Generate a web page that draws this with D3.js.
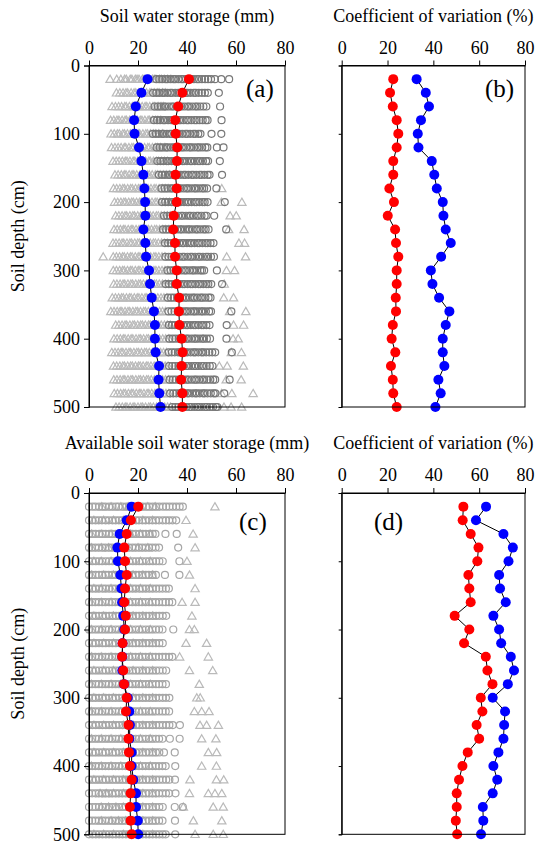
<!DOCTYPE html>
<html>
<head>
<meta charset="utf-8">
<script src="https://cdn.jsdelivr.net/npm/d3@7"></script>
<style>
  body { margin: 0; background: #fff; }
  svg { display: block; }
  text { font-family: "Liberation Serif", "Times New Roman", serif; fill: #000; }
</style>
</head>
<body>
<svg id="fig" width="537" height="845"></svg>
<script>
// Sampling depths (cm)
const depths = [20, 40, 60, 80, 100, 120, 140, 160, 180, 200, 220, 240, 260,
                280, 300, 320, 340, 360, 380, 400, 420, 440, 460, 480, 500];
const xTicks = [0, 20, 40, 60, 80];
const yTicks = [0, 100, 200, 300, 400, 500];

// (a) soil water storage (mm): individual observations per depth, triangles
const swsTri = [
  [8.6,11.3,13,14.5,15.2,16.8,17.5,18.9,19.6,20.4,21.8,22.5,23.7,24.4,25.9,26.6,27.3,28.8,29.5,30.7,32.1,33.4],
  [11.2,12.6,13.9,15.1,15.8,17.2,18.4,19.1,20.3,21.6,22.2,23.5,24.8,25.4,26.7,27.9,28.6,30.0,31.2],
  [9.4,10.8,12.1,13.3,14.6,15.2,16.5,17.7,18.4,19.8,20.5,21.7,22.9,23.6,24.8,26.1,26.9,28.2,29.4,30.3],
  [8.8,10.1,11.4,12.2,13.5,14.7,15.3,16.6,17.9,18.5,19.7,20.9,21.6,22.8,24.1,24.7,26.0,27.2,28.1,29.3],
  [9.0,10.3,11.6,12.4,13.8,14.5,15.7,16.9,17.6,18.8,20.1,20.7,22.0,23.2,23.9,25.1,26.4,27.3,28.5,30.1],
  [9.2,10.6,11.9,13.1,14.4,15.0,16.3,17.5,18.2,19.6,20.8,21.5,22.7,24.0,24.6,25.9,27.1,28.0,29.2,31.0],
  [9.8,11.1,12.3,13.6,14.8,15.5,16.7,18.0,18.7,19.9,21.2,21.9,23.1,24.4,25.0,26.3,27.5,28.4,29.6,30.8,32.0],
  [10.6,11.9,13.2,14.4,15.1,16.4,17.6,18.3,19.5,20.8,21.4,22.7,23.9,24.6,25.8,27.1,27.9,29.1,30.4,31.6,32.9],
  [10.0,11.3,12.6,13.8,14.5,15.8,17.0,17.7,19.0,20.2,20.9,22.1,23.4,24.1,25.3,26.6,27.4,28.6,29.9,31.1,32.3,54.2],
  [10.4,11.7,13.0,14.2,14.9,16.2,17.4,18.1,19.4,20.6,21.3,22.5,23.8,24.5,25.7,27.0,27.8,29.0,30.3,31.5,32.8,54.0,62.4],
  [10.9,12.2,13.5,14.7,15.4,16.7,17.9,18.6,19.9,21.1,21.8,23.0,24.3,25.0,26.2,27.5,28.3,29.5,30.8,32.0,33.2,57.6,60.1],
  [10.2,11.5,12.8,14.0,14.7,16.0,17.2,17.9,19.2,20.4,21.1,22.3,23.6,24.3,25.5,26.8,27.6,28.8,30.1,31.3,32.6,57.0,63.3],
  [9.8,11.0,12.3,13.5,14.2,15.5,16.7,17.4,18.7,19.9,20.6,21.8,23.1,23.8,25.0,26.3,27.1,28.3,29.6,30.8,32.0,61.2,63.5],
  [5.8,9.9,11.2,12.5,13.7,14.4,15.7,16.9,17.6,18.9,20.1,20.8,22.0,23.3,24.0,25.2,26.5,27.3,28.5,29.8,31.0,56.2,63.9],
  [9.9,11.2,12.5,13.7,14.4,15.7,16.9,17.6,18.9,20.1,20.8,22.0,23.3,24.0,25.2,26.5,27.3,28.5,29.8,31.0,32.2,56.1,59.4],
  [10.1,11.4,12.7,13.9,14.6,15.9,17.1,17.8,19.1,20.3,21.0,22.2,23.5,24.2,25.4,26.7,27.5,28.7,30.0,31.2,32.4,55.2],
  [9.5,10.8,12.1,13.3,14.0,15.3,16.5,17.2,18.5,19.7,20.4,21.6,22.9,23.6,24.8,26.1,26.9,28.1,29.4,30.6,31.8,55.0,59.0],
  [8.9,10.2,11.5,12.7,13.4,14.7,15.9,16.6,17.9,19.1,19.8,21.0,22.3,23.0,24.2,25.5,26.3,27.5,28.8,30.0,31.2,57.4,64.0],
  [10.9,12.2,13.5,14.7,15.4,16.7,17.9,18.6,19.9,21.1,21.8,23.0,24.3,25.0,26.2,27.5,28.3,29.5,30.8,32.0,33.2,59.0,63.1],
  [10.2,11.5,12.8,14.0,14.7,16.0,17.2,17.9,19.2,20.4,21.1,22.3,23.6,24.3,25.5,26.8,27.6,28.8,30.1,31.3,32.6,58.8,60.9],
  [9.3,10.6,11.9,13.1,13.8,15.1,16.3,17.0,18.3,19.5,20.2,21.4,22.7,23.4,24.6,25.9,26.7,27.9,29.2,30.4,31.6,58.1,62.2],
  [10.0,11.3,12.6,13.8,14.5,15.8,17.0,17.7,19.0,20.2,20.9,22.1,23.4,24.1,25.3,26.6,27.4,28.6,29.9,31.1,32.3,53.2,56.4,63.0],
  [10.1,11.4,12.7,13.9,14.6,15.9,17.1,17.8,19.1,20.3,21.0,22.2,23.5,24.2,25.4,26.7,27.5,28.7,30.0,31.2,32.4,56.0,62.1],
  [10.3,11.6,12.9,14.1,14.8,16.1,17.3,18.0,19.3,20.5,21.2,22.4,23.7,24.4,25.6,26.9,27.7,28.9,30.2,31.4,32.6,54.1,58.3,67.0],
  [11.0,12.3,13.6,14.8,15.5,16.8,18.0,18.7,20.0,21.2,21.9,23.1,24.4,25.1,26.3,27.6,28.4,29.6,30.9,32.1,33.3,55.1,58.0,62.3]
];
// (a) soil water storage (mm): individual observations per depth, circles
const swsCir = [
  [27.5,28.7,29.9,31.2,32.0,33.3,34.5,35.2,36.5,37.7,38.4,39.6,40.9,41.6,42.8,44.1,44.9,46.1,47.4,48.6,49.8,51.4,54.0,57.2],
  [26.2,27.5,28.7,30.0,30.7,32.0,33.2,33.9,35.2,36.4,37.1,38.3,39.6,40.3,41.5,42.8,43.6,44.8,46.1,47.3,48.5,53.0],
  [26.8,28.1,29.3,30.6,31.3,32.6,33.8,34.5,35.8,37.0,37.7,38.9,40.2,40.9,42.1,43.4,44.2,45.4,46.7,47.9,53.5],
  [26.5,27.8,29.0,30.3,31.0,32.3,33.5,34.2,35.5,36.7,37.4,38.6,39.9,40.6,41.8,43.1,43.9,45.1,46.4,47.6,48.4,54.1],
  [26.0,27.3,28.5,29.8,30.5,31.8,33.0,33.7,35.0,36.2,36.9,38.1,39.4,40.1,41.3,42.6,43.4,44.6,45.5,50.0,54.0],
  [27.6,28.9,30.1,31.4,32.1,33.4,34.6,35.3,36.6,37.8,38.5,39.7,41.0,41.7,42.9,44.2,45.0,46.2,47.5,48.3,52.2,54.9],
  [27.9,29.2,30.4,31.7,32.4,33.7,34.9,35.6,36.9,38.1,38.8,40.0,41.3,42.0,43.2,44.5,45.3,46.5,47.8,48.6,53.4],
  [28.5,29.8,31.0,32.3,33.0,34.3,35.5,36.2,37.5,38.7,39.4,40.6,41.9,42.6,43.8,45.1,45.9,47.1,48.4,49.2,54.3],
  [29.6,30.9,32.1,33.4,34.1,35.4,36.6,37.3,38.6,39.8,40.5,41.7,43.0,43.7,44.9,46.2,47.0,48.2,52.0],
  [29.8,31.1,32.3,33.6,34.3,35.6,36.8,37.5,38.8,40.0,40.7,41.9,43.2,43.9,45.1,46.4,47.2,48.4,55.4],
  [30.6,31.9,33.1,34.4,35.1,36.4,37.6,38.3,39.6,40.8,41.5,42.7,44.0,44.7,45.9,47.2,48.0,51.1],
  [30.2,31.5,32.7,34.0,34.7,36.0,37.2,37.9,39.2,40.4,41.1,42.3,43.6,44.3,45.5,46.8,47.6,48.8,56.0],
  [31.0,32.3,33.5,34.8,35.5,36.8,38.0,38.7,40.0,41.2,41.9,43.1,44.4,45.1,46.3,47.6,48.4,49.6,50.8],
  [31.2,32.5,33.7,35.0,35.7,37.0,38.2,38.9,40.2,41.4,42.1,43.3,44.6,45.3,46.5,47.8,48.6,49.8,51.0],
  [32.0,33.3,34.5,35.8,36.5,37.8,39.0,39.7,41.0,42.2,42.9,44.1,45.4,46.1,47.0,52.2],
  [31.3,32.6,33.8,35.1,35.8,37.1,38.3,39.0,40.3,41.5,42.2,43.4,44.7,45.4,46.6,47.9,48.7,49.9,54.3],
  [32.2,33.5,34.7,36.0,36.7,38.0,39.2,39.9,41.2,42.4,43.1,44.3,45.6,46.3,47.5,48.8,49.6],
  [32.4,33.7,34.9,36.2,36.9,38.2,39.4,40.1,41.4,42.6,43.3,44.5,45.8,46.5,47.7,49.0,49.8,58.1],
  [32.6,33.9,35.1,36.4,37.1,38.4,39.6,40.3,41.6,42.8,43.5,44.7,46.0,46.7,47.9,49.2,56.2],
  [32.8,34.1,35.3,36.6,37.3,38.6,39.8,40.5,41.8,43.0,43.7,44.9,46.2,46.9,48.1,49.4,56.1],
  [32.5,33.8,35.0,36.3,37.0,38.3,39.5,40.2,41.5,42.7,43.4,44.6,45.9,46.6,47.8,49.1,50.3,51.5,58.3],
  [32.7,34.0,35.2,36.5,37.2,38.5,39.7,40.4,41.7,42.9,43.6,44.8,46.1,46.8,48.0,49.3,50.4],
  [32.9,34.2,35.4,36.7,37.4,38.7,39.9,40.6,41.9,43.1,43.8,45.0,46.3,47.0,48.2,49.5,50.7,51.5,57.4],
  [33.1,34.4,35.6,36.9,37.6,38.9,40.1,40.8,42.1,43.3,44.0,45.2,46.5,47.2,48.4,49.7,50.9,51.6,55.2],
  [34.0,35.3,36.5,37.8,38.5,39.8,41.0,41.7,43.0,44.2,44.9,46.1,47.4,48.1,49.3,50.6,51.8,52.4]
];
// (a) mean soil water storage (mm)
const swsBlue = [23.9,21.4,19.1,18.4,18.6,20.4,21.4,22.2,22.6,22.9,23.0,22.2,23.0,
                 23.3,24.5,24.9,25.6,26.5,26.9,26.9,27.2,28.6,28.4,28.7,29.2];
const swsRed  = [40.8,38.1,36.4,35.2,35.4,36.0,35.9,35.3,35.8,35.8,34.6,34.4,35.1,
                 35.1,35.8,35.8,36.8,36.7,36.9,37.8,38.2,37.8,37.6,38.1,38.1];

// (b) coefficient of variation (%)
const cvSwsBlue = [32.7,36.7,38.1,34.6,33.2,33.5,39.3,40.4,41.5,44.1,44.4,45.4,47.6,
                   43.4,38.9,39.6,42.5,47.0,45.4,44.1,44.1,44.8,42.2,43.2,40.9];
const cvSwsRed  = [22.5,21.1,22.3,24.0,24.7,24.0,22.5,22.5,20.8,22.8,20.1,23.3,23.7,
                   24.7,24.0,24.0,23.6,23.7,22.3,21.8,23.4,21.5,22.3,22.5,24.0];

// (c) available soil water storage (mm): individual observations per depth, triangles
const aswsTri = [
  [5.2,9,13,16,20,24,27,51.4],
  [2,6,10,14,18,22,26,39.6],
  [1,5,9,13,17,21,25,42.5],
  [1,5,8,12,16,20,24,43.3],
  [2,5,9,13,17,21,25,40],
  [1,6,10,14,18,22,26,41],
  [2,5,9,13,17,21,25,43.3],
  [1,5,9,13,17,21,25,38,43.3],
  [2,6,10,14,18,22,26,42],
  [1,5,9,13,17,21,25,41,43],
  [2,6,10,14,18,22,26,39.6,48],
  [1,5,9,13,17,21,25,37,48.7],
  [2,6,10,14,18,22,26,41,50.5],
  [1,5,9,13,17,21,25,45],
  [2,6,10,14,18,22,26,44,45.4],
  [1,5,9,13,17,21,25,43,46,49],
  [2,6,10,14,18,22,26,45.3,48,52.8],
  [1,5,9,13,17,21,25,46,51.8],
  [2,6,10,14,18,22,26,48.7,52.1],
  [1,5,9,13,17,21,25,46,52],
  [2,6,10,14,18,22,26,41.2,52,55],
  [4.5,7,10,14,18,22,26,41,48.7,51.4,54.2],
  [5,8,11,14,18,22,26,38.5,50.7,54.8],
  [5,9,12,15,18,22,26,42.6,54.2],
  [2,6,10,14,18,22,26,43.3,50.7,54.8]
];
// (c) available soil water storage (mm): individual observations per depth, circles
const aswsCir = [
  [0,1.4,2.6,4.1,5.5,6.7,8.2,9.6,11.0,12.1,13.7,15.2,16.4,17.8,19.0,20.5,21.9,23.4,24.6,26.0,27.3,28.7,30.2,31.5,32.8,34.2,35.6,37.0,38.3],
  [0,1.3,2.7,4.0,5.3,6.8,8.1,9.6,10.9,12.2,13.5,15.0,16.3,17.7,19.2,20.4,21.8,23.1,24.5,25.9,27.3,28.6,30.1,31.4,32.7,34.1,35.6],
  [0,1.4,2.7,4.2,5.5,6.8,8.2,9.5,10.9,12.3,13.8,15.0,16.4,17.7,19.1,20.6,21.9,23.2,24.7,26.0,27.1,31.2,35.8],
  [0,1.2,2.6,4.0,5.4,6.7,8.1,9.4,10.8,12.2,13.6,14.8,16.3,17.7,19.0,20.4,21.7,23.1,24.5,25.8,27.2,28.6,36.4],
  [0,1.4,2.8,4.1,5.4,6.9,8.2,9.6,11.1,12.3,13.7,15.1,16.4,17.9,19.2,20.5,21.8,23.3,24.6,26.1,27.4,28.7,30.1,36.9],
  [0,1.3,2.7,4.1,5.4,6.8,8.0,9.5,10.9,12.2,13.6,15.0,16.2,17.7,19.1,20.4,21.8,23.2,24.4,25.9,27.3,31.0,36.9],
  [0,1.4,2.7,4.1,5.6,6.8,8.2,9.6,10.8,12.3,13.7,15.1,16.4,17.8,19.1,20.6,21.9,23.2,24.6,26.0,27.4,28.7,30.0,31.4,32.6],
  [0,1.3,2.6,4.0,5.4,6.7,8.2,9.5,10.8,12.2,13.5,14.9,16.3,17.7,19.1,20.4,21.7,23.1,24.5,25.9,27.2,28.6,30.1,31.3,32.7,34.0],
  [0,1.4,2.8,4.1,5.5,6.9,8.3,9.6,11.0,12.3,13.7,15.0,16.4,17.8,19.2,20.5,21.9,23.3,24.6,26.0,27.4,28.7,30.1,31.5],
  [0,1.3,2.7,4.0,5.4,6.8,8.1,9.4,10.9,12.2,13.6,15.0,16.3,17.6,19.1,20.4,21.8,23.2,24.5,25.9,27.3,28.6,30.0,34.4],
  [0,1.4,2.7,4.1,5.5,6.8,8.2,9.6,10.9,12.4,13.7,15.0,16.4,17.8,19.1,20.5,21.9,23.2,24.6,26.0,27.3,28.7,30.1],
  [0,1.3,2.6,4.0,5.4,6.7,8.1,9.5,10.8,12.2,13.6,14.9,16.3,17.7,19.0,20.4,21.8,23.1,24.5,25.9,27.2,28.6,30.0,31.3,32.7,34.0],
  [0,1.4,2.8,4.1,5.5,6.9,8.2,9.6,11.0,12.3,13.7,15.1,16.4,17.8,19.2,20.5,21.9,23.3,24.6,26.0,27.4,28.7,30.1,31.5],
  [0,1.3,2.7,4.0,5.4,6.8,8.1,9.5,10.9,12.2,13.6,15.0,16.3,17.7,19.1,20.4,21.8,23.2,24.5,25.9,27.3,28.6,30.0,31.4],
  [0,1.4,2.7,4.1,5.5,6.8,8.2,9.6,10.9,12.3,13.7,15.0,16.4,17.8,19.1,20.5,21.9,23.2,24.6,26.0,27.3,28.7,30.1,31.4,32.8],
  [0,1.3,2.6,4.0,5.4,6.7,8.1,9.5,10.8,12.2,13.6,14.9,16.3,17.7,19.0,20.4,21.8,23.1,24.5,25.9,27.2,28.6,30.0,31.3,32.7],
  [0,1.4,2.8,4.1,5.5,6.9,8.2,9.6,11.0,12.3,13.7,15.1,16.4,17.8,19.2,20.5,21.9,23.3,24.6,26.0,27.4,28.7,30.1,31.5,32.8,34.2,37.1],
  [0,1.3,2.7,4.0,5.4,6.8,8.1,9.5,10.9,12.2,13.6,15.0,16.3,17.7,19.1,20.4,21.8,23.2,24.5,25.9,27.3,28.6,30.0,33.0,37.0],
  [0,1.4,2.7,4.1,5.5,6.8,8.2,9.6,10.9,12.3,13.7,15.0,16.4,17.8,19.1,20.5,21.9,23.2,24.6,26.0,27.3,28.7,30.6,35.0],
  [0,1.3,2.6,4.0,5.4,6.7,8.1,9.5,10.8,12.2,13.6,14.9,16.3,17.7,19.0,20.4,21.8,23.1,24.5,25.9,27.2,28.6,30.0,31.3,35.2],
  [0,1.4,2.8,4.1,5.5,6.9,8.2,9.6,11.0,12.3,13.7,15.1,16.4,17.8,19.2,20.5,21.9,23.3,24.6,26.0,27.4,28.7,30.1,31.5,32.8,35.1],
  [0,1.3,2.7,4.0,5.4,6.8,8.1,9.5,10.9,12.2,13.6,15.0,16.3,17.7,19.1,20.4,21.8,23.2,24.5,25.9,27.3,28.6,30.0,31.4,32.7,35.3],
  [0,1.4,2.7,4.1,5.5,6.8,8.2,9.6,10.9,12.3,13.7,15.0,16.4,17.8,19.1,20.5,21.9,23.2,24.6,26.0,27.3,28.7,30.1,35.0,38.3],
  [0,1.3,2.6,4.0,5.4,6.7,8.1,9.5,10.8,12.2,13.6,14.9,16.3,17.7,19.0,20.4,21.8,23.1,24.5,25.9,27.2,28.6,30.0,35.1],
  [0,1.4,2.8,4.1,5.5,6.9,8.2,9.6,11.0,12.3,13.7,15.1,16.4,17.8,19.2,20.5,21.9,23.3,24.6,26.0,27.4,28.7,30.1,31.3,35.2]
];
// (c) mean available soil water storage (mm)
const aswsBlue = [17.4,15.4,12.5,11.6,11.8,12.8,13.2,13.5,14.0,14.4,13.7,13.6,13.6,
                  14.3,15.8,16.5,16.7,16.5,17.4,17.4,18.1,19.2,19.2,19.9,20.1];
const aswsRed  = [20.1,17.1,15.4,14.4,14.7,15.4,14.7,14.4,15.0,14.7,13.7,13.5,14.0,
                  14.3,15.4,15.1,16.1,16.1,16.3,16.7,17.4,17.0,16.7,17.0,17.4];

// (d) coefficient of variation (%)
const cvAswsBlue = [63.0,58.6,70.6,74.7,72.8,68.7,69.1,71.6,66.2,68.7,69.6,73.8,75.2,
                    72.5,65.9,71.3,70.9,70.6,68.4,66.2,67.9,65.9,61.6,61.8,60.8];
const cvAswsRed  = [53.1,52.8,56.3,59.7,59.2,55.3,55.7,56.3,49.3,55.7,53.4,62.9,63.6,
                    65.8,60.7,61.4,58.9,60.0,55.0,52.7,51.2,50.2,50.2,49.8,50.4];

const svg = d3.select('#fig');
svg.append('rect').attr('width', 537).attr('height', 845).attr('fill', '#fff');

const triPath = d3.symbol(d3.symbolTriangle).size(30)();

function drawPanel(p) {
  const x = d3.scaleLinear().domain([0, 80]).range([p.left, p.right]);
  const y = d3.scaleLinear().domain([0, 500]).range([p.top, p.bottom]);
  const g = svg.append('g');

  // scattered observations
  if (p.tri) {
    const flat = [];
    p.tri.forEach((row, i) => row.forEach(v => flat.push({ d: depths[i], v })));
    g.append('g').selectAll('path').data(flat).join('path')
      .attr('d', triPath)
      .attr('transform', d => `translate(${x(d.v)},${y(d.d) + 0.8})`)
      .attr('fill', 'none').attr('stroke', p.triColor).attr('stroke-width', 1.2);
  }
  if (p.cir) {
    const flat = [];
    p.cir.forEach((row, i) => row.forEach(v => flat.push({ d: depths[i], v })));
    g.append('g').selectAll('circle').data(flat).join('circle')
      .attr('cx', d => x(d.v)).attr('cy', d => y(d.d)).attr('r', 3.5)
      .attr('fill', 'none').attr('stroke', p.cirColor).attr('stroke-width', 1.2);
  }

  // depth profiles
  const line = d3.line().x(d => x(d.v)).y(d => y(d.d));
  const seriesBlue = p.blue.map((v, i) => ({ d: depths[i], v }));
  const seriesRed = p.red.map((v, i) => ({ d: depths[i], v }));
  [seriesBlue, seriesRed].forEach(s => {
    g.append('path').datum(s).attr('d', line)
      .attr('fill', 'none').attr('stroke', '#000').attr('stroke-width', 1);
  });
  g.append('g').selectAll('circle').data(seriesBlue).join('circle')
    .attr('cx', d => x(d.v)).attr('cy', d => y(d.d)).attr('r', 5)
    .attr('fill', '#0000ff');
  g.append('g').selectAll('circle').data(seriesRed).join('circle')
    .attr('cx', d => x(d.v)).attr('cy', d => y(d.d)).attr('r', 5)
    .attr('fill', '#ff0000');

  // frame
  g.append('rect')
    .attr('x', p.left).attr('y', p.top)
    .attr('width', p.right - p.left).attr('height', p.bottom - p.top)
    .attr('fill', 'none').attr('stroke', '#000').attr('stroke-width', 1);

  // axes
  const ax = g.append('g').attr('transform', `translate(0,${p.top})`)
    .call(d3.axisTop(x).tickValues(xTicks).tickSize(5).tickSizeOuter(0).tickPadding(7));
  ax.selectAll('text').attr('font-size', 18)
    .attr('font-family', '"Liberation Serif", "Times New Roman", serif');

  const ay = g.append('g').attr('transform', `translate(${p.left},0)`)
    .call(d3.axisLeft(y).tickValues(yTicks).tickSizeOuter(0)
      .tickSize(p.yLabels ? 5 : 3).tickPadding(4)
      .tickFormat(p.yLabels ? d3.format('d') : () => ''));
  ay.selectAll('text').attr('font-size', 18)
    .attr('font-family', '"Liberation Serif", "Times New Roman", serif');
  [ax, ay].forEach(a => {
    a.selectAll('path,line').attr('stroke', '#000');
  });

  // titles and tags
  g.append('text').attr('x', (p.left + p.right) / 2).attr('y', p.titleY)
    .attr('text-anchor', 'middle').attr('font-size', 18).text(p.title);
  g.append('text').attr('x', p.tagX).attr('y', p.tagY)
    .attr('font-size', 25).text(p.tag);
  if (p.yLabels) {
    g.append('text')
      .attr('transform', `translate(24,${(p.top + p.bottom) / 2}) rotate(-90)`)
      .attr('text-anchor', 'middle').attr('font-size', 18).text('Soil depth (cm)');
  }
}

drawPanel({
  left: 89, right: 285, top: 65.5, bottom: 407, titleY: 22,
  title: 'Soil water storage (mm)', tag: '(a)', tagX: 246, tagY: 97,
  yLabels: true, tri: swsTri, cir: swsCir, triColor: '#bababa', cirColor: '#787878',
  blue: swsBlue, red: swsRed
});
drawPanel({
  left: 341.7, right: 525, top: 65.5, bottom: 407, titleY: 22,
  title: 'Coefficient of variation (%)', tag: '(b)', tagX: 485, tagY: 97,
  yLabels: false, blue: cvSwsBlue, red: cvSwsRed
});
drawPanel({
  left: 89, right: 285, top: 493, bottom: 834.3, titleY: 449,
  title: 'Available soil water storage (mm)', tag: '(c)', tagX: 239, tagY: 530,
  yLabels: true, tri: aswsTri, cir: aswsCir, triColor: '#bababa', cirColor: '#a6a6a6',
  blue: aswsBlue, red: aswsRed
});
drawPanel({
  left: 341.7, right: 525, top: 493, bottom: 834.3, titleY: 449,
  title: 'Coefficient of variation (%)', tag: '(d)', tagX: 374, tagY: 530,
  yLabels: false, blue: cvAswsBlue, red: cvAswsRed
});
</script>
</body>
</html>
